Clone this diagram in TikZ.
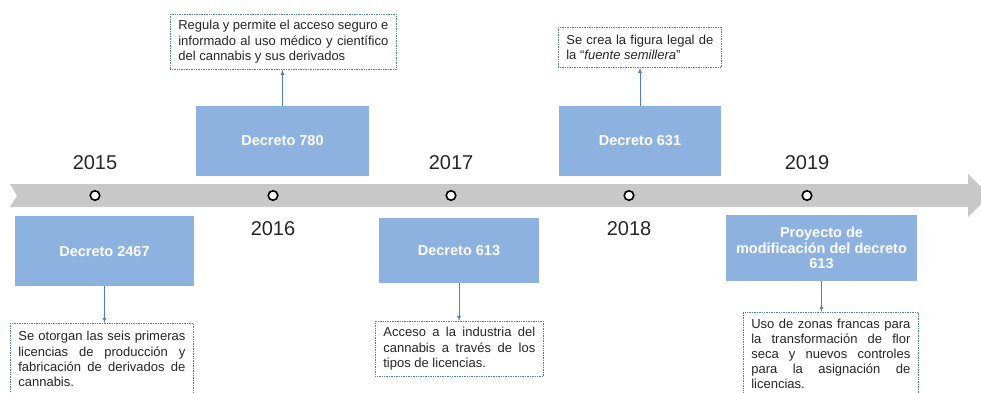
\documentclass[tikz,border=0pt]{standalone}
\usepackage{fontspec}
\setmainfont{Liberation Sans}
\usetikzlibrary{positioning}
\usetikzlibrary{arrows}
\definecolor{boxblue}{RGB}{141,178,224}
\definecolor{lineblue}{RGB}{79,129,189}
\definecolor{bandgray}{RGB}{200,200,200}
\definecolor{txtgray}{RGB}{38,38,38}
\hyphenpenalty=10000
\exhyphenpenalty=10000

\begin{document}
\begin{tikzpicture}[x=1pt,y=-1pt,
  decbox/.style={fill=boxblue,text=white,font=\fontsize{14.5}{15.5}\selectfont\bfseries,align=center,inner sep=0pt},
  infobox/.style={draw=lineblue,densely dotted,line width=0.7pt,fill=white,text=txtgray,font=\fontsize{13}{15.3}\selectfont,align=justify,inner xsep=8pt,anchor=north west},
  year/.style={text=txtgray,font=\fontsize{20}{24}\selectfont},
  hito/.style={circle,draw=black,line width=1.6pt,fill=white,inner sep=0pt,minimum size=9.5pt}]
\useasboundingbox (0,0) rectangle (981,392);

\fill[bandgray] (10,184) -- (968,184) -- (968,174) -- (989.5,195.5) -- (968,217) -- (968,207) -- (10,207) -- (17,195.5) -- cycle;

\foreach \x/\n in {95/a,273/b,451/c,629/d,807/e}
  \node[hito] (h\n) at (\x,195.5) {};

\node[year] (y2015) at (95,163) {2015};
\node[year] (y2016) at (273,229) {2016};
\node[year] (y2017) at (451,163) {2017};
\node[year] (y2018) at (629,229) {2018};
\node[year] (y2019) at (807,163) {2019};

\node[decbox,minimum width=179pt,minimum height=70pt] (b2467) at (104.5,251) {Decreto 2467};
\node[decbox,minimum width=173pt,minimum height=70pt] (b780) at (282.5,141) {Decreto 780};
\node[decbox,minimum width=160pt,minimum height=65pt] (b613) at (459,250.5) {Decreto 613};
\node[decbox,minimum width=162pt,minimum height=70pt] (b631) at (640,141) {Decreto 631};
\node[decbox,minimum width=191pt,minimum height=66pt] (bproy) at (821.5,248) {Proyecto de\\modificación del decreto\\613};

\node[infobox,text width=167pt,inner ysep=8pt] (t2467) at (10,323) {Se otorgan las seis primeras licencias de producción y fabricación de derivados de cannabis.};
\node[infobox,text width=210pt,minimum height=55pt] (t780) at (170,14) {Regula y permite el acceso seguro e informado al uso médico y científico del cannabis y sus derivados};
\node[infobox,text width=152pt,minimum height=55pt] (t613) at (375,321) {Acceso a la industria del cannabis a través de los tipos de licencias.};
\node[infobox,text width=147pt,minimum height=40pt] (t631) at (558,27) {Se crea la figura legal de la “\textit{fuente semillera}”};
\node[infobox,text width=159pt,inner ysep=6.5pt,font=\fontsize{13}{15}\selectfont] (tproy) at (743,312) {Uso de zonas francas para la transformación de flor seca y nuevos controles para la asignación de licencias.};

\draw[lineblue,line width=0.8pt,-latex] (b2467.south) -- (b2467.south |- t2467.north);
\draw[lineblue,line width=0.8pt,-latex] (b780.north) -- (b780.north |- t780.south);
\draw[lineblue,line width=0.8pt,-latex] (b613.south) -- (b613.south |- t613.north);
\draw[lineblue,line width=0.8pt,-latex] (b631.north) -- (b631.north |- t631.south);
\draw[lineblue,line width=0.8pt,-latex] (bproy.south) -- (bproy.south |- tproy.north);
\end{tikzpicture}
\end{document}
